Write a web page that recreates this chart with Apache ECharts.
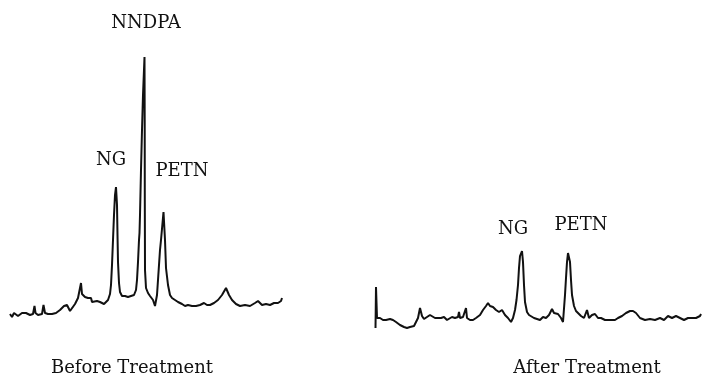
<!DOCTYPE html>
<html>
<head>
<meta charset="utf-8">
<script src="https://cdn.jsdelivr.net/npm/echarts@6/dist/echarts.min.js"></script>
<style>html,body{margin:0;padding:0;background:#fff}#c{width:702px;height:384px}</style>
</head>
<body>
<div id="c"></div>
<script>
// Before treatment trace: retention time (min) and detector response (arb. units)
const beforeTime = [0,0.2,0.4,0.6,0.8,1.0,1.2,1.4,1.6,1.8,2.0,2.3,2.45,2.55,2.8,3.0,3.2,3.35,3.5,3.8,4.2,4.6,5.0,5.4,5.7,6.0,6.2,6.5,6.8,7.0,7.1,7.2,7.5,7.8,8.1,8.2,8.4,8.7,9.0,9.4,9.6,9.8,10.0,10.1,10.2,10.3,10.4,10.5,10.6,10.7,10.75,10.8,10.9,11.0,11.2,11.5,11.8,12.1,12.4,12.6,12.7,12.8,12.9,12.95,13.0,13.1,13.2,13.3,13.45,13.47,13.48,13.5,13.6,13.8,14.0,14.3,14.5,14.7,14.8,15.0,15.1,15.2,15.35,15.5,15.6,15.8,16.0,16.2,16.5,16.8,17.2,17.5,17.8,18.2,18.6,19.0,19.4,19.7,20.0,20.4,20.8,21.2,21.6,21.9,22.2,22.6,23.0,23.5,24.0,24.5,24.8,25.2,25.6,26.0,26.4,26.8,27.1,27.2];
const beforeResponse = [1.6,1.3,1.7,1.5,1.4,1.6,1.7,1.8,1.7,1.5,1.5,1.6,2.4,1.7,1.5,1.3,1.6,2.5,1.7,1.6,1.6,1.7,2.0,2.4,2.5,1.9,2.0,2.6,3.2,3.4,4.7,3.6,3.3,3.2,3.2,2.8,3.0,2.9,2.8,2.6,2.7,3.0,3.6,4.5,6.5,9.0,11.5,13.5,14.3,12.5,9.5,6.8,4.7,3.8,3.4,3.4,3.3,3.4,3.5,4.0,5.0,6.8,9.0,9.7,11.5,16.0,20.0,23.5,27.3,21.0,13.0,6.0,4.2,3.7,3.4,3.0,2.4,3.5,5.0,8.0,9.0,9.2,11.8,9.0,6.2,4.5,3.5,3.2,3.0,2.8,2.6,2.4,2.5,2.4,2.4,2.5,2.7,2.5,2.5,2.7,3.0,3.5,4.2,3.5,3.0,2.6,2.4,2.5,2.4,2.7,2.9,2.5,2.6,2.5,2.7,2.7,2.9,3.2];

// After treatment trace
const afterTime = [0.05,0.1,0.2,0.5,0.8,1.1,1.3,1.5,1.8,2.1,2.5,2.9,3.2,3.5,3.9,4.1,4.3,4.5,4.7,4.9,5.2,5.5,5.7,6.0,6.3,6.6,6.9,7.1,7.2,7.4,7.7,8.0,8.3,8.4,8.5,8.8,9.0,9.1,9.2,9.5,9.8,10.1,10.5,10.8,11.1,11.3,11.5,11.8,12.1,12.4,12.7,13.0,13.3,13.6,13.8,14.0,14.15,14.3,14.4,14.5,14.7,14.8,14.9,15.0,15.2,15.4,15.6,15.9,16.1,16.5,16.8,17.1,17.4,17.7,17.9,18.3,18.6,18.8,19.0,19.1,19.2,19.3,19.4,19.5,19.6,19.7,19.9,20.1,20.3,20.6,20.9,21.2,21.4,21.7,22.0,22.3,22.6,23.0,23.5,24.0,24.3,24.7,25.1,25.5,25.8,26.1,26.5,27.0,27.5,28.0,28.5,28.9,29.3,29.7,30.1,30.5,30.9,31.3,31.7,32.1,32.5,32.6];
const afterResponse = [0.2,4.3,1.2,1.2,1.0,1.0,0.8,1.1,1.0,0.8,0.5,0.3,0.2,0.3,0.4,0.8,1.2,2.2,1.4,1.1,1.3,1.5,1.3,1.2,1.2,1.2,1.3,1.3,1.0,1.2,1.3,1.2,1.3,1.8,1.2,1.3,1.4,2.2,1.2,1.0,1.0,1.2,1.5,2.0,2.4,2.7,2.4,2.3,2.0,1.8,2.0,1.5,1.2,0.8,1.2,2.0,3.0,4.5,6.2,7.4,7.9,6.8,4.5,2.8,1.8,1.5,1.3,1.2,1.2,1.0,1.3,1.2,1.5,2.1,1.7,1.6,1.2,0.8,3.5,5.2,6.8,7.7,7.8,6.8,5.0,3.5,2.4,1.9,1.7,1.4,1.2,2.0,1.2,1.5,1.6,1.2,1.2,1.0,1.0,1.0,1.2,1.4,1.7,1.9,1.9,1.7,1.2,1.0,1.1,1.0,1.2,1.0,1.4,1.2,1.4,1.2,1.0,1.2,1.2,1.2,1.4,1.6];

// Labels
const beforePeakLabels = ['NG', 'NNDPA', 'PETN'];
const afterPeakLabels = ['NG', 'PETN'];
const panelTitles = ['Before Treatment', 'After Treatment'];

function zip(t, r) { return t.map((v, i) => [v, r[i]]); }

const chart = echarts.init(document.getElementById('c'), null, {renderer: 'canvas'});
const ink = '#111';
const font = 'DejaVu Serif';
const txt = (text, x, y) => ({
  type: 'text', x: x, y: y,
  style: { text: text, fill: ink, font: '18px "' + font + '"', align: 'center', verticalAlign: 'middle' }
});

chart.setOption({
  animation: false,
  backgroundColor: '#fff',
  grid: [
    { left: 10, width: 272, top: 30, height: 300 },
    { left: 375, width: 327, top: 30, height: 300 }
  ],
  xAxis: [
    { type: 'value', gridIndex: 0, min: 0, max: 27.2, show: false },
    { type: 'value', gridIndex: 1, min: 0, max: 32.7, show: false }
  ],
  yAxis: [
    { type: 'value', gridIndex: 0, min: 0, max: 30, show: false },
    { type: 'value', gridIndex: 1, min: 0, max: 30, show: false }
  ],
  series: [
    { type: 'line', xAxisIndex: 0, yAxisIndex: 0, data: zip(beforeTime, beforeResponse),
      showSymbol: false, symbol: 'none', lineStyle: { color: ink, width: 2 }, silent: true },
    { type: 'line', xAxisIndex: 1, yAxisIndex: 1, data: zip(afterTime, afterResponse),
      showSymbol: false, symbol: 'none', lineStyle: { color: ink, width: 2 }, silent: true }
  ],
  graphic: [
    txt(beforePeakLabels[1], 146, 23),
    txt(beforePeakLabels[0], 111, 160),
    txt(beforePeakLabels[2], 182, 171),
    txt(panelTitles[0], 132, 368),
    txt(afterPeakLabels[0], 513, 229),
    txt(afterPeakLabels[1], 581, 225),
    txt(panelTitles[1], 587, 368)
  ]
});
</script>
</body>
</html>
